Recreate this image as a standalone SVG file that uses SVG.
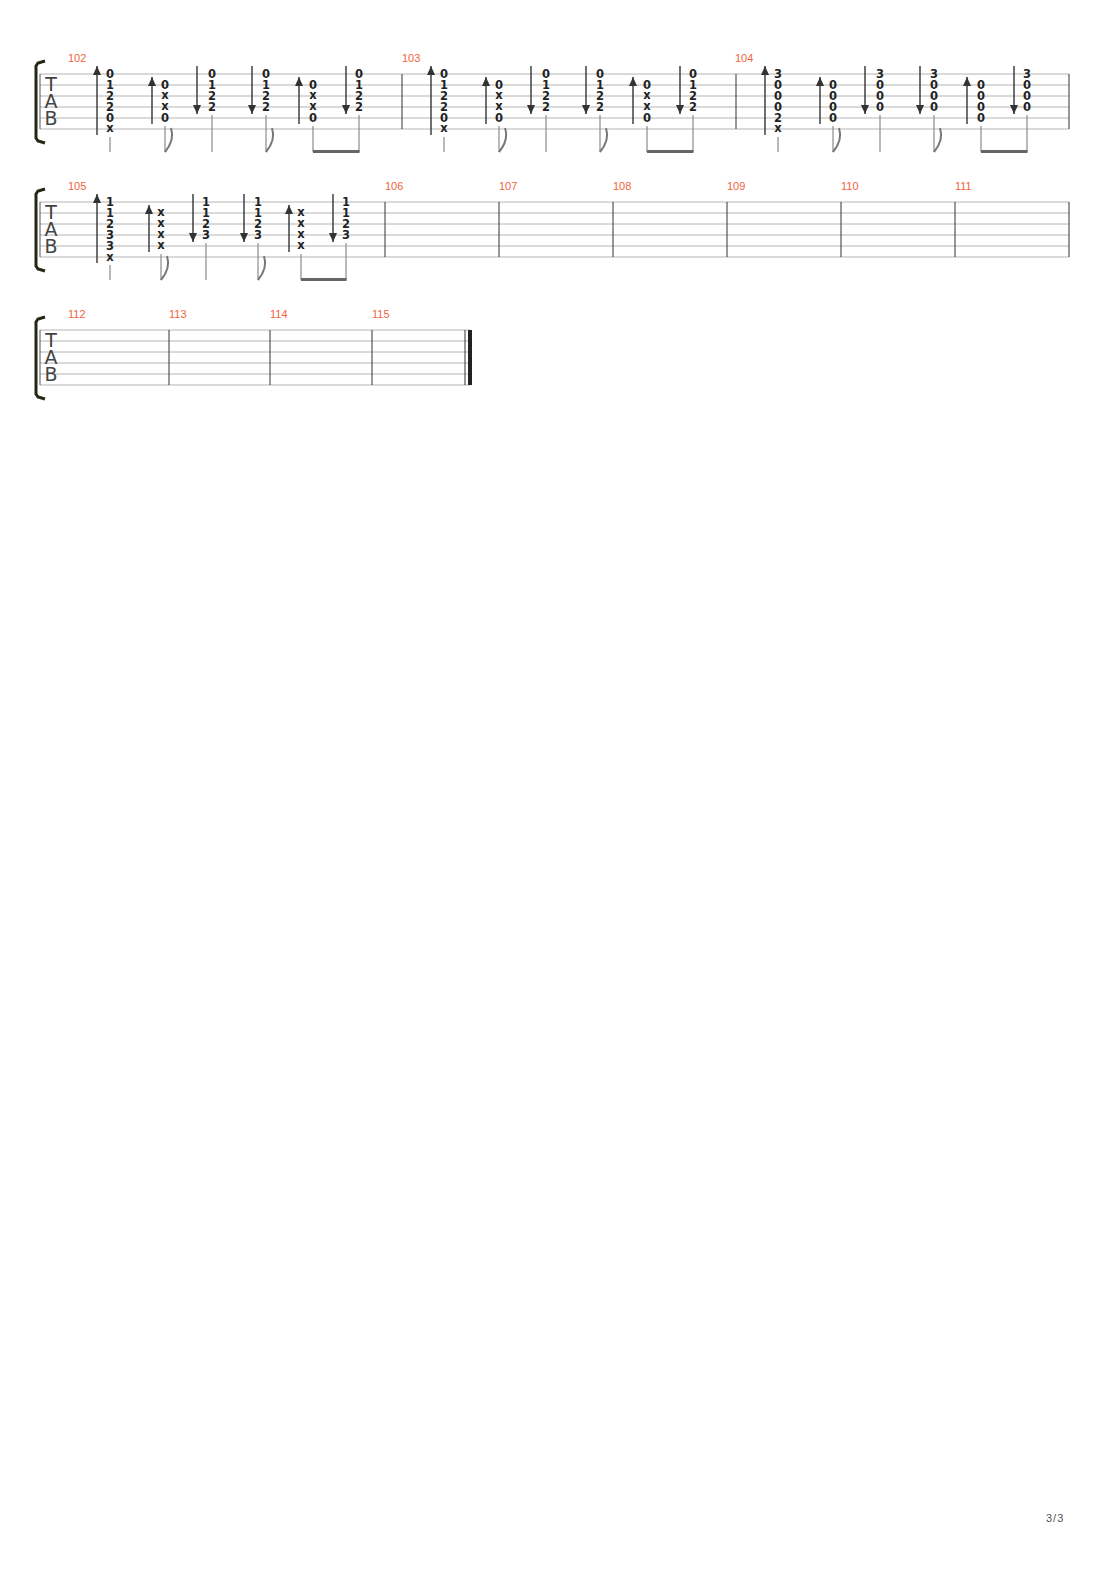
<svg xmlns="http://www.w3.org/2000/svg" xmlns:xlink="http://www.w3.org/1999/xlink" width="1110" height="1570" viewBox="0 0 1110 1570">
<style>
.st{stroke:#b4b4b4;stroke-width:1}
.bar{stroke:#333;stroke-width:1}
.n{font-family:"DejaVu Sans",sans-serif;font-size:11.5px;font-weight:bold;fill:#222;text-anchor:middle}
.mn{font-family:"Liberation Sans",sans-serif;font-size:11px;fill:#f0643c}
.tab{font-family:"DejaVu Sans",sans-serif;font-size:19px;fill:#444;text-anchor:middle}
.ar{stroke:#333;stroke-width:1.4;marker-end:url(#ah)}
.sm{stroke:#8a8a8a;stroke-width:1.2}
.fl{stroke:#777;stroke-width:2;fill:none}
.bm{fill:#666}
.br{stroke:#222814;stroke-width:3;fill:none}
</style>
<defs>
<marker id="ah" markerUnits="userSpaceOnUse" markerWidth="10" markerHeight="9" refX="9" refY="4" orient="auto"><path d="M0,0 L9,4 L0,8 z" fill="#333"/></marker>
<g id="staff1"><line class="st" x1="40" y1="74" x2="1069" y2="74"/><line class="st" x1="40" y1="85" x2="1069" y2="85"/><line class="st" x1="40" y1="96" x2="1069" y2="96"/><line class="st" x1="40" y1="107" x2="1069" y2="107"/><line class="st" x1="40" y1="118" x2="1069" y2="118"/><line class="st" x1="40" y1="129" x2="1069" y2="129"/></g>
<g id="head"><line x1="40" y1="74" x2="40" y2="129" stroke="#555"/><path class="br" d="M45,61 L38,63 L36,66 L36,138 L38,141 L45,143"/><text class="tab" x="51" y="91">T</text><text class="tab" x="51" y="108">A</text><text class="tab" x="51" y="125">B</text></g>
<g id="rhythm">
<line class="sm" x1="110" y1="137" x2="110" y2="152"/>
<line class="sm" x1="165" y1="126" x2="165" y2="152"/><path class="fl" d="M165,152 Q175,140 171,128"/>
<line class="sm" x1="212" y1="115" x2="212" y2="152"/>
<line class="sm" x1="266" y1="115" x2="266" y2="152"/><path class="fl" d="M266,152 Q276,140 272,128"/>
<line class="sm" x1="313" y1="126" x2="313" y2="152"/>
<line class="sm" x1="359" y1="115" x2="359" y2="152"/>
<rect class="bm" x="313" y="150" width="46.5" height="3"/>
</g>
<g id="arrows">
<line class="ar" x1="97" y1="135" x2="97" y2="66"/>
<line class="ar" x1="152" y1="124" x2="152" y2="77"/>
<line class="ar" x1="197" y1="66" x2="197" y2="114"/>
<line class="ar" x1="252" y1="66" x2="252" y2="114"/>
<line class="ar" x1="299" y1="124" x2="299" y2="77"/>
<line class="ar" x1="346" y1="66" x2="346" y2="114"/>
</g>
<g id="m102">
<use xlink:href="#arrows"/><use xlink:href="#rhythm"/>
<text class="n" x="110" y="78">0</text><text class="n" x="110" y="89">1</text><text class="n" x="110" y="100">2</text><text class="n" x="110" y="111">2</text><text class="n" x="110" y="122">0</text><text class="n" x="110" y="132">x</text>
<text class="n" x="165" y="89">0</text><text class="n" x="165" y="99">x</text><text class="n" x="165" y="110">x</text><text class="n" x="165" y="122">0</text>
<text class="n" x="212" y="78">0</text><text class="n" x="212" y="89">1</text><text class="n" x="212" y="100">2</text><text class="n" x="212" y="111">2</text>
<text class="n" x="266" y="78">0</text><text class="n" x="266" y="89">1</text><text class="n" x="266" y="100">2</text><text class="n" x="266" y="111">2</text>
<text class="n" x="313" y="89">0</text><text class="n" x="313" y="99">x</text><text class="n" x="313" y="110">x</text><text class="n" x="313" y="122">0</text>
<text class="n" x="359" y="78">0</text><text class="n" x="359" y="89">1</text><text class="n" x="359" y="100">2</text><text class="n" x="359" y="111">2</text>
</g>
<g id="m104c">
<use xlink:href="#arrows"/><use xlink:href="#rhythm"/>
<text class="n" x="110" y="78">3</text><text class="n" x="110" y="89">0</text><text class="n" x="110" y="100">0</text><text class="n" x="110" y="111">0</text><text class="n" x="110" y="122">2</text><text class="n" x="110" y="132">x</text>
<text class="n" x="165" y="89">0</text><text class="n" x="165" y="100">0</text><text class="n" x="165" y="111">0</text><text class="n" x="165" y="122">0</text>
<text class="n" x="212" y="78">3</text><text class="n" x="212" y="89">0</text><text class="n" x="212" y="100">0</text><text class="n" x="212" y="111">0</text>
<text class="n" x="266" y="78">3</text><text class="n" x="266" y="89">0</text><text class="n" x="266" y="100">0</text><text class="n" x="266" y="111">0</text>
<text class="n" x="313" y="89">0</text><text class="n" x="313" y="100">0</text><text class="n" x="313" y="111">0</text><text class="n" x="313" y="122">0</text>
<text class="n" x="359" y="78">3</text><text class="n" x="359" y="89">0</text><text class="n" x="359" y="100">0</text><text class="n" x="359" y="111">0</text>
</g>
</defs>

<g id="system1">
<use xlink:href="#staff1"/><use xlink:href="#head"/>
<line class="bar" x1="402" y1="74" x2="402" y2="129"/><line class="bar" x1="736" y1="74" x2="736" y2="129"/><line class="bar" x1="1069" y1="74" x2="1069" y2="129"/>
<text class="mn" x="68" y="62">102</text><text class="mn" x="402" y="62">103</text><text class="mn" x="735" y="62">104</text>
<g id="measure102"><use xlink:href="#m102"/></g>
<g id="measure103"><use xlink:href="#m102" transform="translate(334,0)"/></g>
<g id="measure104"><use xlink:href="#m104c" transform="translate(668,0)"/></g>
</g>

<g id="system2" transform="translate(0,128)">
<use xlink:href="#staff1"/><use xlink:href="#head"/>
<line class="bar" x1="385" y1="74" x2="385" y2="129"/><line class="bar" x1="499" y1="74" x2="499" y2="129"/><line class="bar" x1="613" y1="74" x2="613" y2="129"/><line class="bar" x1="727" y1="74" x2="727" y2="129"/><line class="bar" x1="841" y1="74" x2="841" y2="129"/><line class="bar" x1="955" y1="74" x2="955" y2="129"/><line class="bar" x1="1069" y1="74" x2="1069" y2="129"/>
<text class="mn" x="68" y="62">105</text><text class="mn" x="385" y="62">106</text><text class="mn" x="499" y="62">107</text><text class="mn" x="613" y="62">108</text><text class="mn" x="727" y="62">109</text><text class="mn" x="841" y="62">110</text><text class="mn" x="955" y="62">111</text>
<g id="measure105">
<line class="ar" x1="97" y1="135" x2="97" y2="66"/>
<line class="ar" x1="149" y1="124" x2="149" y2="77"/>
<line class="ar" x1="193" y1="66" x2="193" y2="114"/>
<line class="ar" x1="244" y1="66" x2="244" y2="114"/>
<line class="ar" x1="289" y1="124" x2="289" y2="77"/>
<line class="ar" x1="333" y1="66" x2="333" y2="114"/>
<line class="sm" x1="110" y1="137" x2="110" y2="152"/>
<line class="sm" x1="161" y1="126" x2="161" y2="152"/><path class="fl" d="M161,152 Q171,140 167,128"/>
<line class="sm" x1="206" y1="115" x2="206" y2="152"/>
<line class="sm" x1="258" y1="115" x2="258" y2="152"/><path class="fl" d="M258,152 Q268,140 264,128"/>
<line class="sm" x1="301" y1="126" x2="301" y2="152"/>
<line class="sm" x1="346" y1="115" x2="346" y2="152"/>
<rect class="bm" x="301" y="150" width="45.5" height="3"/>
<text class="n" x="110" y="78">1</text><text class="n" x="110" y="89">1</text><text class="n" x="110" y="100">2</text><text class="n" x="110" y="111">3</text><text class="n" x="110" y="122">3</text><text class="n" x="110" y="133">x</text>
<text class="n" x="161" y="88">x</text><text class="n" x="161" y="99">x</text><text class="n" x="161" y="110">x</text><text class="n" x="161" y="121">x</text>
<text class="n" x="206" y="78">1</text><text class="n" x="206" y="89">1</text><text class="n" x="206" y="100">2</text><text class="n" x="206" y="111">3</text>
<text class="n" x="258" y="78">1</text><text class="n" x="258" y="89">1</text><text class="n" x="258" y="100">2</text><text class="n" x="258" y="111">3</text>
<text class="n" x="301" y="88">x</text><text class="n" x="301" y="99">x</text><text class="n" x="301" y="110">x</text><text class="n" x="301" y="121">x</text>
<text class="n" x="346" y="78">1</text><text class="n" x="346" y="89">1</text><text class="n" x="346" y="100">2</text><text class="n" x="346" y="111">3</text>
</g>
</g>

<g id="system3" transform="translate(0,256)">
<line class="st" x1="40" y1="74" x2="470" y2="74"/><line class="st" x1="40" y1="85" x2="470" y2="85"/><line class="st" x1="40" y1="96" x2="470" y2="96"/><line class="st" x1="40" y1="107" x2="470" y2="107"/><line class="st" x1="40" y1="118" x2="470" y2="118"/><line class="st" x1="40" y1="129" x2="470" y2="129"/>
<use xlink:href="#head"/>
<line class="bar" x1="169" y1="74" x2="169" y2="129"/><line class="bar" x1="270" y1="74" x2="270" y2="129"/><line class="bar" x1="372" y1="74" x2="372" y2="129"/><line class="bar" x1="465" y1="74" x2="465" y2="129"/><rect x="468" y="74" width="4" height="55" fill="#222"/>
<text class="mn" x="68" y="62">112</text><text class="mn" x="169" y="62">113</text><text class="mn" x="270" y="62">114</text><text class="mn" x="372" y="62">115</text>
</g>

<text x="1046" y="1522" font-family="Liberation Sans,sans-serif" font-size="11" letter-spacing="1" fill="#555">3/3</text>
</svg>
